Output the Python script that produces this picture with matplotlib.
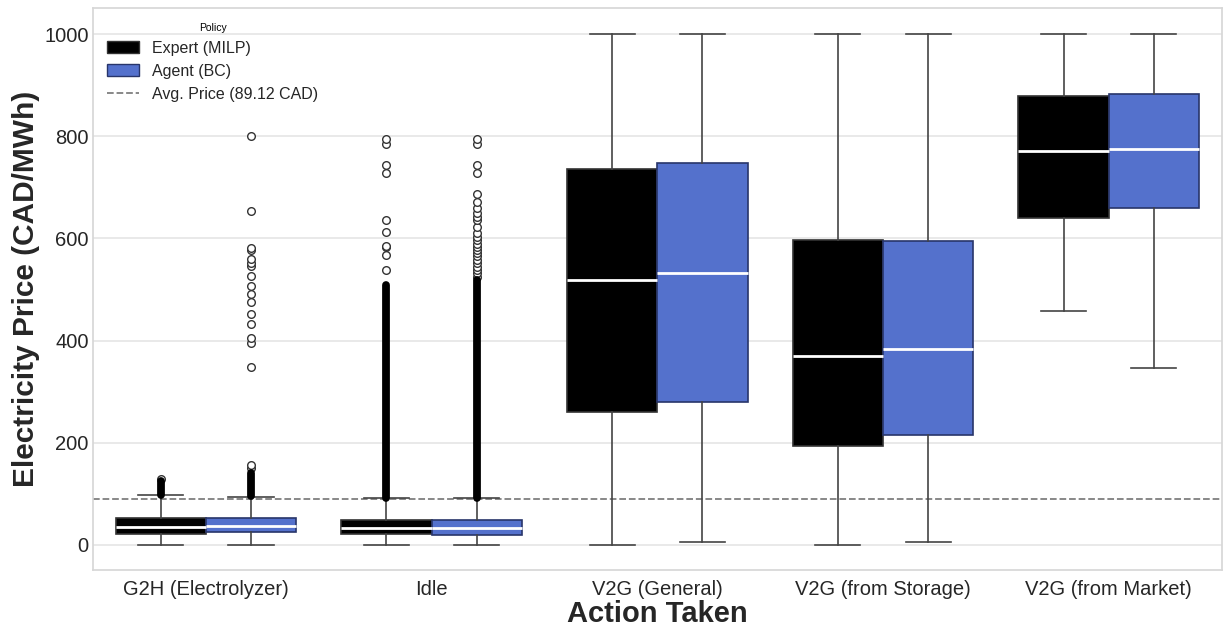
import numpy as np
import matplotlib.pyplot as plt
from matplotlib.patches import Patch
from matplotlib.lines import Line2D

plt.rcParams['font.family'] = ['Liberation Sans', 'DejaVu Sans']

actions = ['G2H (Electrolyzer)', 'Idle', 'V2G (General)', 'V2G (from Storage)', 'V2G (from Market)']
avg_price = 89.12

# box stats (CAD/MWh)
expert_whislo = [0, 0, 0, 0, 457]
expert_q1 = [22, 21, 261, 194, 641]
expert_med = [34, 33, 519, 370, 771]
expert_q3 = [52, 49, 737, 597, 879]
expert_whishi = [98, 91, 1000, 1000, 1000]

agent_whislo = [0, 0, 5, 5, 347]
agent_q1 = [26, 20, 280, 215, 659]
agent_med = [37, 33, 532, 384, 776]
agent_q3 = [53, 49, 748, 596, 883]
agent_whishi = [94, 91, 1000, 1000, 1000]

# scattered outliers
expert_fliers = [
    [129],
    [539, 567, 584, 586, 613, 637, 729, 744, 785, 795],
    [], [], [],
]
agent_fliers = [
    [150, 156, 349, 396, 406, 432, 453, 476, 491, 507, 526, 546, 552, 559, 578, 581, 654, 801],
    [525, 532, 538, 545, 551, 558, 565, 571, 578, 584, 590, 597, 603, 610, 623, 636,
     642, 649, 659, 672, 688, 729, 744, 785, 795],
    [], [], [],
]
# ranges so packed with outliers they read as a solid column
expert_dense = [(98, 126), (92, 509), None, None, None]
agent_dense = [(95, 140), (92, 519), None, None, None]

expert_color = 'black'
agent_color = '#5471CC'


def make_stats(lo, q1, med, q3, hi, fl):
    return [dict(whislo=lo[i], q1=q1[i], med=med[i], q3=q3[i], whishi=hi[i], fliers=fl[i])
            for i in range(len(lo))]


fig = plt.figure(figsize=(12.24, 6.29), dpi=100)
ax = fig.add_axes([0.076, 0.094, 0.922, 0.893])

x = np.arange(len(actions))
off = 0.2
bw = 0.4

line_kw = dict(color='#444444', linewidth=1.2)
flier_kw = dict(marker='o', markerfacecolor='white', markeredgecolor='#333333',
                markersize=5.5, markeredgewidth=1.0, linestyle='none')

for stats, pos, col, edge, dense in [
        (make_stats(expert_whislo, expert_q1, expert_med, expert_q3, expert_whishi, expert_fliers),
         x - off, expert_color, '#333333', expert_dense),
        (make_stats(agent_whislo, agent_q1, agent_med, agent_q3, agent_whishi, agent_fliers),
         x + off, agent_color, '#28356a', agent_dense)]:
    ax.bxp(stats, positions=pos, widths=bw, patch_artist=True, showfliers=True,
           boxprops=dict(facecolor=col, edgecolor=edge, linewidth=1.2),
           whiskerprops=line_kw, capprops=line_kw, capwidths=bw / 2,
           medianprops=dict(color='white', linewidth=2.0),
           flierprops=flier_kw, zorder=3)
    for p, d in zip(pos, dense):
        if d is not None:
            ax.plot([p, p], [d[0], d[1]], color='black', linewidth=5.6,
                    solid_capstyle='round', zorder=4)

ax.axhline(avg_price, color='#7f7f7f', linestyle='--', linewidth=1.3, zorder=2)

ax.set_xlim(-0.5, len(actions) - 0.5)
ax.set_ylim(-49, 1051)
ax.set_yticks([0, 200, 400, 600, 800, 1000])
ax.set_xticks(x)
ax.set_xticklabels(actions)
ax.tick_params(axis='x', length=0, labelsize=14.5, labelcolor='#262626', pad=7)
ax.tick_params(axis='y', length=0, labelsize=14.5, labelcolor='#262626', pad=3)
ax.yaxis.grid(True, color='#e3e3e3', linewidth=1.1, zorder=0)
ax.xaxis.grid(False)
ax.set_axisbelow(True)
for s in ax.spines.values():
    s.set_color('#d6d6d6')
    s.set_linewidth(1.2)

ax.set_xlabel('Action Taken', fontsize=21, fontweight='bold', color='#262626', labelpad=1)
ax.set_ylabel('Electricity Price (CAD/MWh)', fontsize=21.5, fontweight='bold', color='#262626', labelpad=3)

handles = [Patch(facecolor=expert_color, edgecolor='#333333', label='Expert (MILP)'),
           Patch(facecolor=agent_color, edgecolor='#28356a', label='Agent (BC)'),
           Line2D([0], [0], color='#7f7f7f', linestyle='--', linewidth=1.3,
                  label='Avg. Price (%.2f CAD)' % avg_price)]
leg = ax.legend(handles=handles, title='Policy', loc='upper left', frameon=False,
                fontsize=11.5, title_fontsize=7.5, labelspacing=0.5)
for t in leg.get_texts():
    t.set_color('#262626')

fig.savefig('out.png', dpi=100)
